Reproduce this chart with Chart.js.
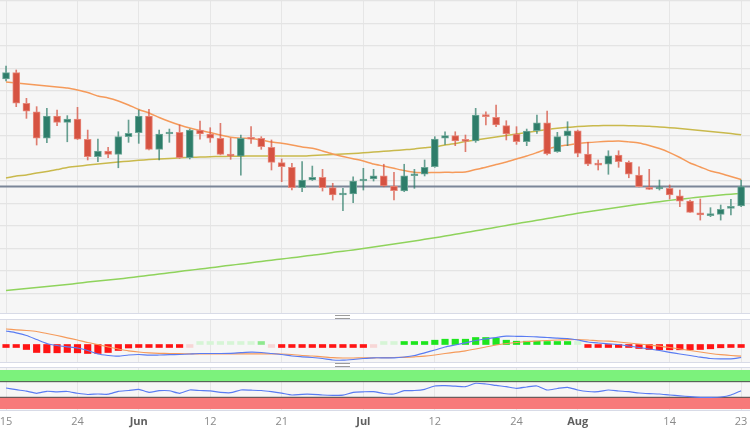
<!DOCTYPE html>
<html><head><meta charset="utf-8">
<script src="https://cdn.jsdelivr.net/npm/chart.js@4.4.1/dist/chart.umd.min.js"></script>
<style>
html,body{margin:0;padding:0;background:#fff;}
#wrap{position:relative;width:750px;height:430px;overflow:hidden;background:#fff;}
.panel{position:absolute;left:0;width:750px;background:#f6f6f6;}
.sep{position:absolute;left:0;width:750px;height:1px;background:#d8dbe7;}
.handle{position:absolute;left:335px;width:15px;height:2px;border-top:1px solid #9c9c9c;border-bottom:1px solid #9c9c9c;}
canvas{position:absolute;left:0;}
</style></head><body>
<div id="wrap">
 <div class="panel" style="top:0;height:313px"></div>
 <div class="panel" style="top:320px;height:42px"></div>
 <div class="panel" style="top:368px;height:42px"></div>
 <div class="sep" style="top:313px"></div>
 <div class="sep" style="top:319px"></div>
 <div class="sep" style="top:362px"></div>
 <div class="sep" style="top:367px"></div>
 <div class="sep" style="top:410px"></div>
 <div class="handle" style="top:315px"></div>
 <div class="handle" style="top:363px"></div>
 <canvas id="cMain" width="750" height="313" style="top:0"></canvas>
 <canvas id="cMacd" width="750" height="42" style="top:320px"></canvas>
 <canvas id="cRsi" width="750" height="62" style="top:368px"></canvas>
</div>
<script>
// ---- categories (trading days) ----
const dates = ['May 15','May 16','May 17','May 18','May 19','May 22','May 23','May 24','May 25','May 26','May 29','May 30','May 31',
 'Jun 1','Jun 2','Jun 5','Jun 6','Jun 7','Jun 8','Jun 9','Jun 12','Jun 13','Jun 14','Jun 15','Jun 16','Jun 19','Jun 20','Jun 21','Jun 22','Jun 23','Jun 26','Jun 27','Jun 28','Jun 29','Jun 30',
 'Jul 3','Jul 4','Jul 5','Jul 6','Jul 7','Jul 10','Jul 11','Jul 12','Jul 13','Jul 14','Jul 17','Jul 18','Jul 19','Jul 20','Jul 21','Jul 24','Jul 25','Jul 26','Jul 27','Jul 28','Jul 31',
 'Aug 1','Aug 2','Aug 3','Aug 4','Aug 7','Aug 8','Aug 9','Aug 10','Aug 11','Aug 14','Aug 15','Aug 16','Aug 17','Aug 18','Aug 21','Aug 22','Aug 23'];
const tickIdx    = [0, 7, 13, 20, 27, 35, 42, 50, 56, 65, 72];
const tickLabels = ['15','24','Jun','12','21','Jul','12','24','Aug','14','23'];
const monthLabels = ['Jun','Jul','Aug'];

// ---- OHLC ----
const open  = [2010.8,2016.4,1989.2,1981.7,1958.1,1977.9,1972.3,1975.2,1957.2,1941.7,1946.8,1943.8,1959.5,1963.0,1977.9,1948.3,1961.9,1963.4,1940.8,1965.4,1961.9,1958.1,1943.8,1942.3,1958.1,1958.1,1950.1,1936.4,1932.3,1914.2,1921.0,1923.4,1914.2,1907.7,1908.6,1920.1,1921.9,1924.8,1915.7,1911.2,1924.8,1926.1,1932.8,1958.1,1960.4,1955.9,1955.7,1978.8,1976.7,1969.3,1961.9,1955.0,1964.8,1971.9,1946.2,1960.1,1964.8,1944.1,1935.0,1935.0,1943.2,1936.7,1925.4,1914.5,1913.0,1913.6,1907.0,1902.3,1891.9,1889.3,1890.5,1895.8,1897.9];
const close = [2016.4,1989.2,1982.3,1958.1,1977.9,1972.3,1975.2,1957.4,1941.7,1946.8,1943.8,1959.5,1962.5,1977.9,1948.3,1961.9,1963.4,1940.8,1965.4,1961.9,1958.1,1943.8,1942.3,1958.1,1957.2,1950.6,1936.7,1932.8,1914.2,1921.0,1923.4,1914.2,1907.7,1908.3,1920.1,1921.9,1924.8,1915.7,1911.5,1924.8,1925.4,1932.3,1957.4,1960.4,1955.7,1955.4,1978.8,1977.3,1969.9,1961.9,1955.0,1964.6,1971.9,1944.1,1959.5,1964.8,1944.7,1935.0,1934.3,1942.6,1937.3,1926.1,1915.0,1912.7,1914.2,1907.7,1902.3,1892.3,1889.9,1889.9,1894.9,1897.3,1915.2];
const high  = [2022.3,2018.8,1993.6,1986.2,1984.7,1983.2,1978.2,1985.6,1965.4,1957.4,1950.1,1963.9,1974.3,1983.2,1983.8,1965.4,1966.3,1969.9,1966.3,1973.4,1967.5,1971.4,1958.1,1961.0,1968.4,1959.5,1956.6,1939.7,1935.8,1937.3,1933.4,1930.5,1918.1,1913.6,1923.9,1931.4,1930.5,1935.0,1927.8,1935.0,1930.5,1938.8,1959.5,1963.9,1963.9,1961.0,1984.7,1981.7,1987.7,1973.7,1968.4,1966.3,1978.8,1982.3,1963.4,1972.8,1965.4,1954.5,1938.8,1947.0,1947.0,1937.9,1932.8,1930.5,1921.0,1916.6,1912.1,1903.2,1904.1,1896.4,1898.8,1903.8,1921.0];
const low   = [2009.0,1986.2,1975.8,1952.1,1954.2,1969.3,1955.0,1957.0,1938.8,1937.3,1940.8,1931.9,1954.5,1953.6,1947.8,1938.8,1954.5,1940.3,1939.7,1957.2,1954.5,1943.4,1939.4,1925.4,1953.6,1948.3,1929.9,1919.5,1912.1,1910.6,1920.6,1911.2,1903.2,1893.7,1900.8,1912.1,1920.1,1915.0,1903.2,1910.6,1913.6,1924.6,1932.3,1952.7,1951.5,1946.2,1954.5,1969.9,1968.4,1956.6,1952.7,1951.5,1962.5,1943.2,1945.6,1951.5,1941.7,1933.7,1929.9,1926.1,1932.3,1923.0,1914.8,1912.6,1912.1,1904.1,1897.3,1892.1,1885.4,1888.4,1885.4,1889.9,1897.4];

// ---- moving averages ----
const ma20  = [2008.1,2007.2,2006.3,2005.4,2004.6,2003.7,2002.8,2001.0,1998.8,1995.7,1993.9,1991.2,1987.7,1983.7,1980.6,1976.6,1973.0,1969.9,1967.2,1965.0,1963.2,1961.0,1959.0,1958.1,1957.9,1956.6,1954.8,1953.6,1952.1,1950.3,1949.2,1946.8,1944.1,1941.9,1939.9,1937.9,1935.2,1933.4,1931.4,1929.4,1927.8,1927.5,1927.7,1927.8,1927.8,1928.1,1930.3,1932.3,1934.8,1937.0,1939.7,1942.3,1945.4,1948.6,1950.8,1952.1,1953.4,1954.3,1954.9,1955.4,1955.7,1954.9,1953.9,1951.7,1949.0,1945.4,1941.0,1936.1,1932.6,1929.0,1926.8,1924.1,1921.4];
const ma50  = [1922.8,1924.6,1925.4,1927.2,1928.6,1930.3,1932.1,1933.2,1934.3,1935.2,1936.1,1937.0,1937.7,1938.5,1939.2,1939.7,1940.1,1940.7,1941.2,1941.4,1941.7,1941.9,1942.1,1942.2,1942.3,1942.3,1942.3,1942.3,1942.3,1942.3,1942.8,1943.2,1943.7,1944.1,1944.6,1945.2,1945.9,1946.5,1947.2,1947.9,1948.6,1949.6,1950.6,1952.1,1953.4,1955.2,1956.6,1957.9,1959.2,1960.6,1961.9,1963.2,1964.6,1965.9,1967.0,1967.8,1968.6,1969.0,1969.3,1969.4,1969.4,1969.3,1969.0,1968.7,1968.1,1967.5,1966.8,1965.9,1965.0,1964.1,1963.2,1962.3,1961.2];
const ma200 = [1822.8,1823.7,1824.6,1825.4,1826.3,1827.2,1828.1,1829.2,1830.3,1831.2,1832.1,1833.0,1834.1,1835.2,1836.3,1837.4,1838.5,1839.7,1840.8,1841.9,1843.0,1844.1,1845.3,1846.3,1847.5,1848.6,1849.7,1850.8,1851.9,1853.0,1854.2,1855.2,1856.6,1857.7,1858.8,1860.1,1861.4,1862.8,1864.1,1865.4,1866.8,1868.3,1869.7,1871.2,1872.7,1874.3,1875.9,1877.4,1879.0,1880.6,1882.2,1883.7,1885.2,1886.8,1888.3,1889.9,1891.4,1892.8,1894.2,1895.5,1896.8,1898.1,1899.4,1900.6,1901.7,1902.9,1903.9,1904.9,1905.9,1906.8,1907.7,1908.4,1909.0];

// ---- MACD ----
const macdLine = [13.5,11.7,9,5,1,-1,-2.3,-3.5,-6,-9.5,-11,-11.7,-10.5,-10,-10.7,-10.5,-10.2,-10,-9.5,-9,-9,-9,-8.8,-8.2,-7.7,-8,-9,-10,-11.5,-12.3,-13,-14,-15.5,-15.7,-15,-14,-13.3,-13.3,-13.3,-12.5,-11,-8.3,-5.5,-2.5,-0.5,1.7,4,5.7,7,8.3,8.2,8,7.7,7,6.3,6,4.5,2.5,1.5,0.7,0,-1.5,-3,-4.5,-6,-7.8,-9.5,-11,-12.7,-14,-14.3,-14.3,-13];
const signalLine = [15.5,14.7,14,13,11,9,6.7,4.5,2,0,-2.5,-4.5,-6.3,-7.5,-8.3,-8.8,-9,-9.2,-9.3,-9.3,-9.3,-9.3,-9.3,-9.3,-9.3,-9.3,-9.3,-9.5,-10,-11,-11.5,-12.3,-13.2,-13.5,-13.5,-13.4,-13.3,-13.2,-13,-12.8,-12.3,-11.7,-10.5,-9,-7.7,-6.3,-4.5,-2.5,-0.5,1,2,3,3.5,4,4.5,4.8,5,4.5,3.7,3.3,2.5,1.5,0.5,-0.5,-1.7,-3,-4.5,-6,-7.5,-9,-10.2,-11,-11.7];
const histogram = [-1,-2.7,-5,-8,-8.3,-8.3,-8,-8.3,-9,-9,-8,-6,-3.5,-1.8,-1.8,-1.5,-1.5,-1.3,-0.5,0.3,0.5,0.3,0.1,0.2,0.5,0.7,-0.3,-1.3,-2,-2.3,-2.3,-2.3,-2.3,-2.3,-2,-1.3,-0.5,0.3,0.5,1.3,1.7,2,4.3,5.3,5.3,5.3,7,7,6.3,4.3,3.3,3.3,3.3,2,2,1.7,0.3,-1.3,-2,-2.3,-2.7,-3,-4,-5,-5.3,-5.3,-5.3,-5.3,-5,-4.3,-3.3,-2.3,-1.3];

// ---- RSI ----
const rsi = [53.8,49.5,45.6,40.3,45.4,44.1,44.9,40.3,37.2,38.5,37.9,45.4,47.4,50.5,42.8,46.9,46.7,40.3,48.7,47.4,46.7,42.8,41.8,48.7,48.2,47.4,44.4,40.5,35.9,37.7,37.7,35.9,35.1,35.4,42.8,44.1,44.4,39.7,38.5,46.9,47.4,50.5,59.0,59.7,58.5,57.2,65.9,64.1,60.3,57.2,53.1,56.4,59.0,48.7,52.6,55.6,48.7,44.9,44.4,48.7,46.2,44.4,41.0,39.5,38.5,35.9,33.8,31.5,29.9,29.9,30.8,35.9,46.9];
const rsiUpper = 70, rsiLower = 30;

// ================= drawing =================
const X_MIN = -0.59, X_MAX = 72.87;
const UP = '#2e7d6a', DOWN = '#d65342';
const UP_EDGE = '#6ea898', DOWN_EDGE = '#e8897c';
const UP_WICK = 'rgba(46,125,106,0.72)', DOWN_WICK = 'rgba(214,83,66,0.75)';
const pts = arr => arr.map((v, i) => ({x: i, y: v}));
const isUp = i => close[i] >= open[i];

function xScale(showLabels) {
  return {
    type: 'linear', min: X_MIN, max: X_MAX, offset: false,
    grid: {color: '#e6e6e6', lineWidth: 1, drawTicks: false, offset: false},
    border: {display: false},
    afterBuildTicks: s => { s.ticks = tickIdx.map(v => ({value: v})); },
    afterFit: s => { s.paddingLeft = 0; s.paddingRight = 0; if (showLabels) s.height = 20; },
    ticks: {
      display: showLabels, autoSkip: false, maxRotation: 0, minRotation: 0, padding: 5,
      callback: (v, i) => tickLabels[i],
      font: c => ({family: "'Open Sans', 'DejaVu Sans', sans-serif", size: 11,
                   weight: monthLabels.includes(tickLabels[c.index]) ? 'bold' : 'normal'}),
      color: c => monthLabels.includes(tickLabels[c.index]) ? '#5f5f5f' : '#8a8a8a'
    }
  };
}
const common = {responsive: false, animation: false, events: [], layout: {padding: 0},
  plugins: {legend: {display: false}, tooltip: {enabled: false}}};

const yGrid = [];
for (let v = 1820; v <= 2080; v += 20) yGrid.push(v);
const lastClose = close[close.length - 1];

new Chart(document.getElementById('cMain'), {
  type: 'bar',
  data: {datasets: [
    {type: 'line', data: pts(ma200), borderColor: '#8fd35c', borderWidth: 1.5, pointRadius: 0, tension: 0.2, order: 6},
    {type: 'line', data: pts(ma50), borderColor: '#c9b94c', borderWidth: 1.5, pointRadius: 0, tension: 0.2, order: 5},
    {type: 'line', data: pts(ma20), borderColor: '#f59a5a', borderWidth: 1.5, pointRadius: 0, tension: 0.2, order: 4},
    {type: 'line', data: [{x: X_MIN, y: lastClose}, {x: X_MAX, y: lastClose}], borderColor: '#7b8698', borderWidth: 2, pointRadius: 0, order: 3},
    {type: 'bar', data: low.map((l, i) => ({x: i, y: [l, high[i]]})), grouped: false, barThickness: 1,
     backgroundColor: c => isUp(c.dataIndex) ? UP_WICK : DOWN_WICK, borderWidth: 0, order: 2},
    {type: 'bar', data: open.map((o, i) => ({x: i, y: [o, close[i]]})), grouped: false, barThickness: 7, minBarLength: 2,
     backgroundColor: c => isUp(c.dataIndex) ? UP : DOWN,
     borderColor: c => isUp(c.dataIndex) ? UP_EDGE : DOWN_EDGE, borderWidth: 1, borderSkipped: false, order: 1}
  ]},
  options: Object.assign({}, common, {scales: {
    x: xScale(false),
    y: {type: 'linear', min: 1802.8, max: 2081, beginAtZero: false,
        afterBuildTicks: s => { s.ticks = yGrid.map(v => ({value: v})); },
        ticks: {display: false}, grid: {color: '#e4e4e4', lineWidth: 1.3, drawTicks: false}, border: {display: false}}
  }})
});

new Chart(document.getElementById('cMacd'), {
  type: 'bar',
  data: {datasets: [
    {type: 'bar', data: pts(histogram), grouped: false, barThickness: 6.5, minBarLength: 3,
     backgroundColor: c => { const v = histogram[c.dataIndex];
       if (Math.abs(v) < 0.6) return v >= 0 ? '#d6f5d6' : '#f7d6d6';
       if (Math.abs(v) < 1) return v >= 0 ? '#8ee88e' : '#f59a9a';
       return v >= 0 ? '#1ee61e' : '#ff1414'; }, borderWidth: 0, order: 3},
    {type: 'line', data: pts(signalLine), borderColor: '#f59a5a', borderWidth: 1.2, pointRadius: 0, tension: 0.2, order: 2},
    {type: 'line', data: pts(macdLine), borderColor: '#5a7cf2', borderWidth: 1.2, pointRadius: 0, tension: 0.2, order: 1}
  ]},
  options: Object.assign({}, common, {scales: {
    x: xScale(false),
    y: {type: 'linear', min: -17.5, max: 24.5, beginAtZero: false, display: false}
  }})
});

new Chart(document.getElementById('cRsi'), {
  type: 'line',
  data: {datasets: [
    {data: [{x: X_MIN, y: rsiUpper}, {x: X_MAX, y: rsiUpper}], borderColor: '#4a4a4a', borderWidth: 1, pointRadius: 0,
     fill: {value: 100}, backgroundColor: '#7cf27c', order: 3},
    {data: [{x: X_MIN, y: rsiLower}, {x: X_MAX, y: rsiLower}], borderColor: '#4a4a4a', borderWidth: 1, pointRadius: 0,
     fill: {value: 0}, backgroundColor: '#f77a7a', order: 2},
    {data: pts(rsi), borderColor: '#5a7cf2', borderWidth: 1.2, pointRadius: 0, tension: 0.2, fill: false, order: 1}
  ]},
  options: Object.assign({}, common, {scales: {
    x: xScale(true),
    y: {type: 'linear', min: -2.5, max: 105, display: false}
  }})
});
</script>
</body></html>
